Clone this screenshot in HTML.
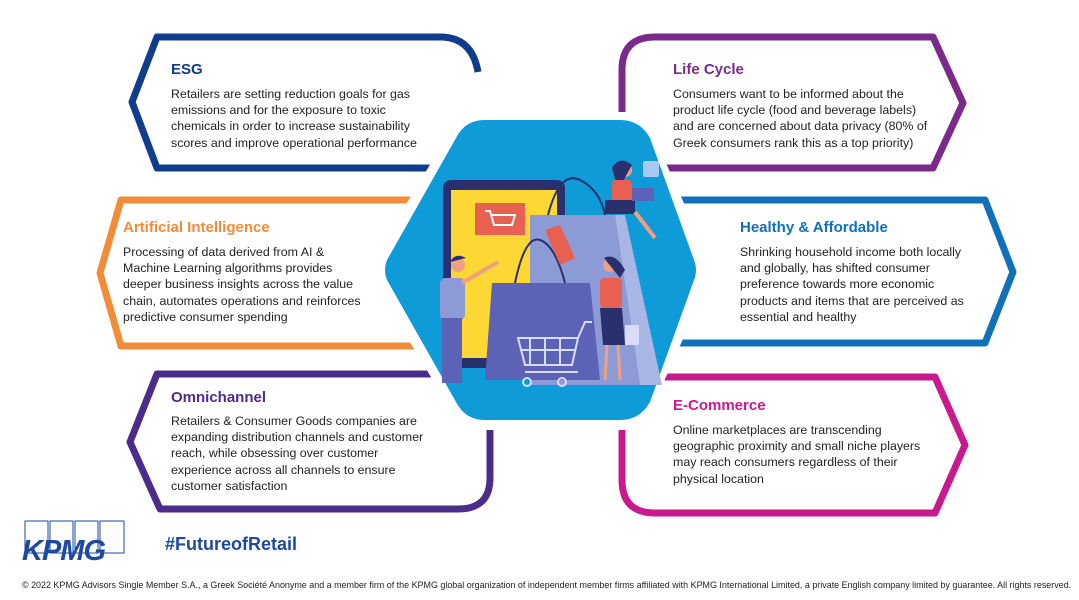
<!DOCTYPE html>
<html><head><meta charset="utf-8"><style>
html,body{margin:0;padding:0;background:#fff;}
body{width:1079px;height:600px;position:relative;overflow:hidden;font-family:"Liberation Sans",Arial,sans-serif;}
.t{position:absolute;font-weight:bold;font-size:15px;}
.b{position:absolute;font-size:12.4px;line-height:16.2px;color:#222;}
</style></head><body>
<svg width="1079" height="600" style="position:absolute;left:0;top:0">
<g fill="none" stroke-width="7" stroke-linejoin="round" stroke-linecap="butt">
<path d="M478,72 Q472,37 440,37 L157,37 L132,102 L157,168 L440,168" stroke="#0F3D8C"/>
<path d="M560,200 L121,200 L100,273 L121,346 L560,346" stroke="#F28C38"/>
<path d="M440,374 L157,374 L130,442 L160,509 L458,509 Q490,509 490,478 L490,430" stroke="#4B2C8A"/>
<path d="M622,112 L622,70 Q622,37 655,37 L933,37 L963,103 L933,168 L640,168" stroke="#7B2A8C"/>
<path d="M540,200 L985,200 L1013,272 L985,343 L540,343" stroke="#1070BA"/>
<path d="M622,430 L622,480 Q622,513 655,513 L935,513 L965,445 L935,377 L640,377" stroke="#C8198F"/>
</g>
<polygon points="462,112 643,112 714,270 643,428 462,428 366,270" fill="#fff"/>
<path d="M485,120 L620,120 Q640,120 650,138 L694,260 Q698,270 694,280 L650,402 Q640,420 620,420 L485,420 Q465,420 456,402 L387,280 Q383,270 387,260 L456,138 Q465,120 485,120Z" fill="#0E9BD8"/>
<rect x="443" y="180" width="122" height="188" rx="8" fill="#2A2F6E"/>
<rect x="451" y="190" width="106" height="168" fill="#FDD835"/>
<rect x="475" y="203" width="50" height="32" fill="#E8604F"/>
<path d="M485,211 L490,211 L494,225 L512,225 L515,215 L491,215" stroke="#fff" stroke-width="2" fill="none"/>
<polygon points="530,215 615,215 640,385 530,385" fill="#8C9AD6"/>
<polygon points="615,215 625,215 662,385 640,385" fill="#AAB6E6"/>
<path d="M548,215 Q560,170 580,180 Q600,190 605,215" stroke="#2A2F6E" stroke-width="2" fill="none"/>
<polygon points="492,283 590,283 600,380 485,380" fill="#5C62B5"/>
<path d="M515,283 Q525,235 540,240 Q555,245 565,283" stroke="#2A2F6E" stroke-width="2" fill="none"/>
<polygon points="545,230 560,225 575,258 560,265" fill="#E8604F"/>
<path d="M518,338 L578,338 L572,365 L525,365 Z M530,338 V365 M545,338 V365 M560,338 V365 M520,350 H575" stroke="#D8DCF4" stroke-width="2" fill="none"/>
<path d="M578,338 L585,322 L592,322 M525,372 H578" stroke="#D8DCF4" stroke-width="2" fill="none"/>
<circle cx="527" cy="382" r="4" fill="none" stroke="#D8DCF4" stroke-width="2"/><circle cx="562" cy="382" r="4" fill="none" stroke="#D8DCF4" stroke-width="2"/>
<circle cx="458" cy="265" r="7" fill="#F0A080"/><path d="M450,262 Q455,252 466,258" fill="#2A2F6E"/>
<rect x="440" y="278" width="25" height="42" rx="5" fill="#8C9AD6"/>
<path d="M462,283 L498,262" stroke="#F0A080" stroke-width="4"/>
<rect x="442" y="318" width="20" height="65" fill="#5C62B5"/>
<circle cx="610" cy="265" r="7" fill="#F0A080"/><path d="M604,258 Q615,252 625,270 L620,278" fill="#2A2F6E"/>
<rect x="600" y="278" width="22" height="30" rx="4" fill="#E8604F"/>
<polygon points="600,308 622,308 625,345 603,345" fill="#2A2F6E"/>
<path d="M607,345 L605,380 M618,345 L620,380" stroke="#F0A080" stroke-width="3"/>
<rect x="625" y="325" width="14" height="20" fill="#D8DCF4"/>
<circle cx="625" cy="170" r="7" fill="#F0A080"/><path d="M612,168 Q620,155 632,165 L618,190" fill="#2A2F6E"/>
<rect x="612" y="180" width="20" height="22" rx="4" fill="#E8604F"/>
<rect x="605" y="200" width="30" height="14" fill="#2A2F6E"/>
<rect x="632" y="188" width="22" height="13" fill="#5C62B5"/>
<path d="M635,212 L655,238" stroke="#F0A080" stroke-width="4"/>
<rect x="643" y="161" width="16" height="16" rx="2" fill="#A8C8F0"/>
<g fill="none" stroke="#1E49A0" stroke-width="1">
<rect x="25" y="521" width="23" height="32"/><rect x="50" y="521" width="23" height="32"/><rect x="75" y="521" width="23" height="32"/><rect x="100" y="521" width="24" height="32"/>
</g>
</svg>
<div style="position:absolute;left:22px;top:535px;font-size:29px;font-weight:bold;font-style:italic;color:#1E49A0;letter-spacing:-1px">KPMG</div>
<div style="position:absolute;left:165px;top:534px;font-size:18px;font-weight:bold;color:#1E49A0">#FutureofRetail</div>
<div style="position:absolute;left:22px;top:580px;font-size:8.95px;color:#222;white-space:nowrap">© 2022 KPMG Advisors Single Member S.A., a Greek Société Anonyme and a member firm of the KPMG global organization of independent member firms affiliated with KPMG International Limited, a private English company limited by guarantee. All rights reserved.</div>

<div class="t" style="left:171px;top:61px;color:#0F3D8C">ESG</div>
<div class="b" style="left:171px;top:86px">Retailers are setting reduction goals for gas<br>emissions and for the exposure to toxic<br>chemicals in order to increase sustainability<br>scores and improve operational performance</div>

<div class="t" style="left:123px;top:219px;color:#F28C38">Artificial Intelligence</div>
<div class="b" style="left:123px;top:244px">Processing of data derived from AI &amp;<br>Machine Learning algorithms provides<br>deeper business insights across the value<br>chain, automates operations and reinforces<br>predictive consumer spending</div>

<div class="t" style="left:171px;top:389px;color:#4B2C8A">Omnichannel</div>
<div class="b" style="left:171px;top:413px">Retailers &amp; Consumer Goods companies are<br>expanding distribution channels and customer<br>reach, while obsessing over customer<br>experience across all channels to ensure<br>customer satisfaction</div>

<div class="t" style="left:673px;top:61px;color:#7B2A8C">Life Cycle</div>
<div class="b" style="left:673px;top:86px">Consumers want to be informed about the<br>product life cycle (food and beverage labels)<br>and are concerned about data privacy (80% of<br>Greek consumers rank this as a top priority)</div>

<div class="t" style="left:740px;top:219px;color:#1070BA">Healthy &amp; Affordable</div>
<div class="b" style="left:740px;top:244px">Shrinking household income both locally<br>and globally, has shifted consumer<br>preference towards more economic<br>products and items that are perceived as<br>essential and healthy</div>

<div class="t" style="left:673px;top:397px;color:#C8198F">E-Commerce</div>
<div class="b" style="left:673px;top:422px">Online marketplaces are transcending<br>geographic proximity and small niche players<br>may reach consumers regardless of their<br>physical location</div>
</body></html>
